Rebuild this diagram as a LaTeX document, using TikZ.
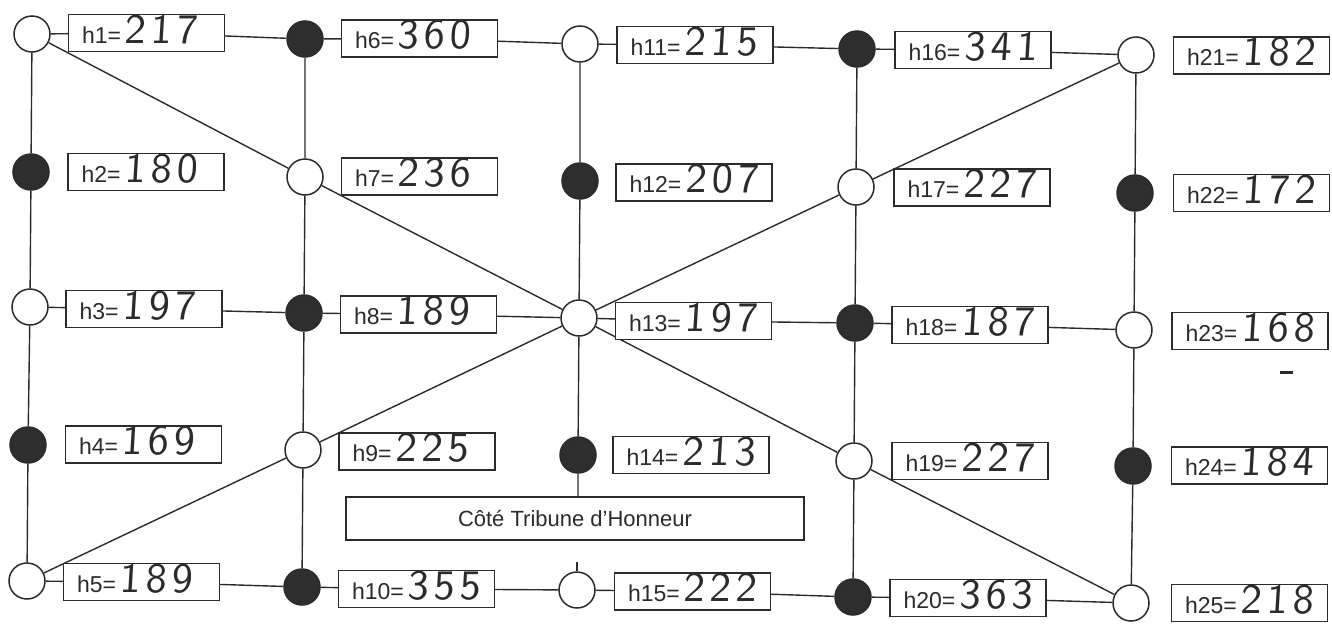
\documentclass[tikz,border=0pt]{standalone}
\usepackage{fontspec}
\setmainfont{Liberation Sans}
\newfontfamily\hand[LetterSpace=12,FakeSlant=0.06]{lmsans10-regular.otf}
\usetikzlibrary{calc,backgrounds}
\definecolor{ink}{HTML}{2B2B2B}
\newcommand\hbx[4]{%
  \node[hbox] (b#1) at (#2,#3) {};
  \node[lab] (t#1) at ($(b#1.west)+(14,10)$) {h#1=\,{\hand\fontsize{42}{42}\selectfont #4}};}
\begin{document}
\begin{tikzpicture}[x=1pt,y=-1pt,
  open/.style={circle,draw=ink,fill=white,line width=1.5pt,minimum size=36pt,inner sep=0pt},
  full/.style={circle,draw=ink,fill=black!82,line width=1.5pt,minimum size=36pt,inner sep=0pt},
  hbox/.style={rectangle,draw=ink,fill=white,line width=1.4pt,minimum width=156pt,minimum height=37pt,inner sep=0pt},
  lab/.style={anchor=base west,inner sep=0pt,text=ink,font=\fontsize{23}{23}\selectfont},
  link/.style={draw=ink,line width=1.4pt}]
\useasboundingbox (0,0) rectangle (1332,627);
% circles
\node[open] (c1) at (32,34) {};
\node[full] (c2) at (31,172) {};
\node[open] (c3) at (30,307) {};
\node[full] (c4) at (28,445) {};
\node[open] (c5) at (27,581) {};
\node[full] (c6) at (305,39) {};
\node[open] (c7) at (305,177) {};
\node[full] (c8) at (304,313) {};
\node[open] (c9) at (303,450) {};
\node[full] (c10) at (302,587) {};
\node[open] (c11) at (580,44) {};
\node[full] (c12) at (580,181) {};
\node[open] (c13) at (579,318) {};
\node[full] (c14) at (578,455) {};
\node[open] (c15) at (577,590) {};
\node[full] (c16) at (857,49) {};
\node[open] (c17) at (856,187) {};
\node[full] (c18) at (855,323) {};
\node[open] (c19) at (854,461) {};
\node[full] (c20) at (853,597) {};
\node[open] (c21) at (1136,55) {};
\node[full] (c22) at (1135,193) {};
\node[open] (c23) at (1134,330) {};
\node[full] (c24) at (1133,466) {};
\node[open] (c25) at (1131,603) {};
% boxes
\hbx{1}{146.5}{33}{217}
\hbx{2}{146}{172}{180}
\hbx{3}{144}{309}{197}
\hbx{4}{143.5}{444.5}{169}
\hbx{5}{141.5}{582}{189}
\hbx{6}{419.5}{38.5}{360}
\hbx{7}{419.5}{176.5}{236}
\hbx{8}{418.5}{314.5}{189}
\hbx{9}{417}{451.5}{225}
\hbx{10}{416.5}{589}{355}
\hbx{11}{695}{45}{215}
\hbx{12}{694}{182.5}{207}
\hbx{13}{693.5}{321}{197}
\hbx{14}{691}{455}{213}
\hbx{15}{692.5}{591.5}{222}
\hbx{16}{973}{50}{341}
\hbx{17}{972}{187.5}{227}
\hbx{18}{970}{325}{187}
\hbx{19}{970}{461}{227}
\hbx{20}{968}{598}{363}
\hbx{21}{1251.5}{55.5}{182}
\hbx{22}{1251.5}{193}{172}
\hbx{23}{1250}{331}{168}
\hbx{24}{1249.5}{465.5}{184}
\hbx{25}{1249.5}{603}{218}
\node[rectangle,draw=ink,fill=white,line width=1.4pt,minimum width=458pt,minimum height=43pt,inner sep=0pt,text=ink,font=\fontsize{22}{22}\selectfont] (tb) at (575,518.5) {Côté Tribune d’Honneur};
\coordinate (s15) at (577,562);
\draw[ink,line width=3pt] (1280,372) -- (1293,372);
% connectors
\begin{scope}[on background layer]
\draw[link] (c1) -- (b1) -- (c6) -- (b6) -- (c11) -- (b11) -- (c16) -- (b16) -- (c21);
\draw[link] (c3) -- (b3) -- (c8) -- (b8) -- (c13) -- (b13) -- (c18) -- (b18) -- (c23);
\draw[link] (c5) -- (b5) -- (c10) -- (b10) -- (c15) -- (b15) -- (c20) -- (b20) -- (c25);
\draw[link] (c1) -- (c2) -- (c3) -- (c4) -- (c5);
\draw[link] (c6) -- (c7) -- (c8) -- (c9) -- (c10);
\draw[link] (c11) -- (c12) -- (c13) -- (c14) -- (c14 |- tb.north);
\draw[link] (c15) -- (s15);
\draw[link] (c16) -- (c17) -- (c18) -- (c19) -- (c20);
\draw[link] (c21) -- (c22) -- (c23) -- (c24) -- (c25);
\draw[link] (c1) -- (c7) -- (c13) -- (c19) -- (c25);
\draw[link] (c5) -- (c9) -- (c13) -- (c17) -- (c21);
\end{scope}
\end{tikzpicture}
\end{document}
